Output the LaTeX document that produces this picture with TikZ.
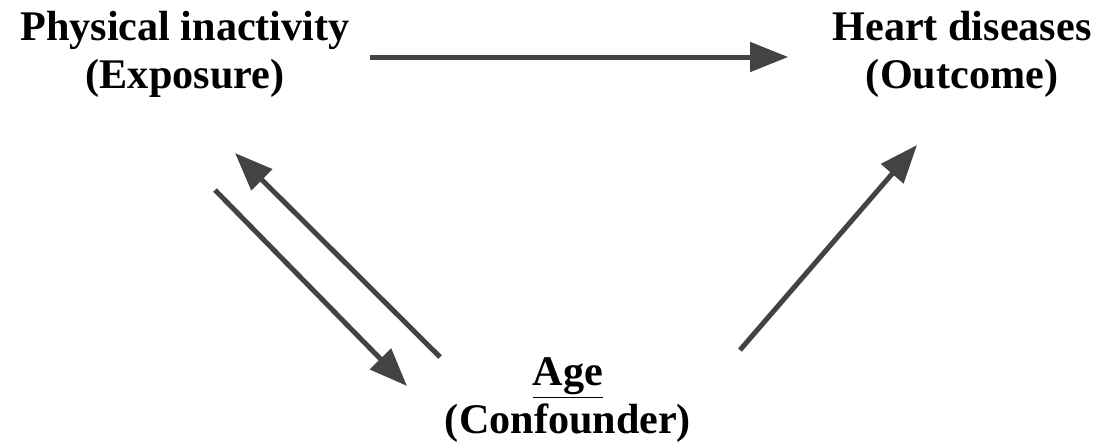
\documentclass[tikz,border=0pt]{standalone}
\usepackage{fontspec}
\setmainfont{Liberation Serif}
\usetikzlibrary{arrows.meta, positioning}

\begin{document}
\begin{tikzpicture}[
    x=0.025cm, y=-0.025cm,
    label/.style={align=center, font=\fontsize{30}{34}\selectfont\bfseries, inner sep=0pt},
    arrow/.style={-{Triangle[length=0.95cm, width=0.72cm]}, line width=0.125cm, draw=arrowgray}
]
\definecolor{arrowgray}{HTML}{434343}
\useasboundingbox (0,0) rectangle (1097,443);

% Nodes
\node[label] (exposure) at (185,54) {Physical inactivity\\(Exposure)};
\node[label] (outcome) at (962,54) {Heart diseases\\(Outcome)};
\node[label] (age) at (568,400) {\underline{Age}\\(Confounder)};

% Arrow ends
\coordinate (ea) at (215,190);
\coordinate (ae) at (407,386);
\coordinate (ax) at (440,357);
\coordinate (xa) at (235,153);
\coordinate (ao) at (740,350);
\coordinate (oa) at (917,145);

% Arrows
\draw[arrow] ([xshift=0.5cm]exposure.east |- 0,57) -- ([xshift=-1.1cm]outcome.west |- 0,57);
\draw[arrow] (ea) -- (ae);
\draw[arrow] (ax) -- (xa);
\draw[arrow] (ao) -- (oa);

\end{tikzpicture}
\end{document}
